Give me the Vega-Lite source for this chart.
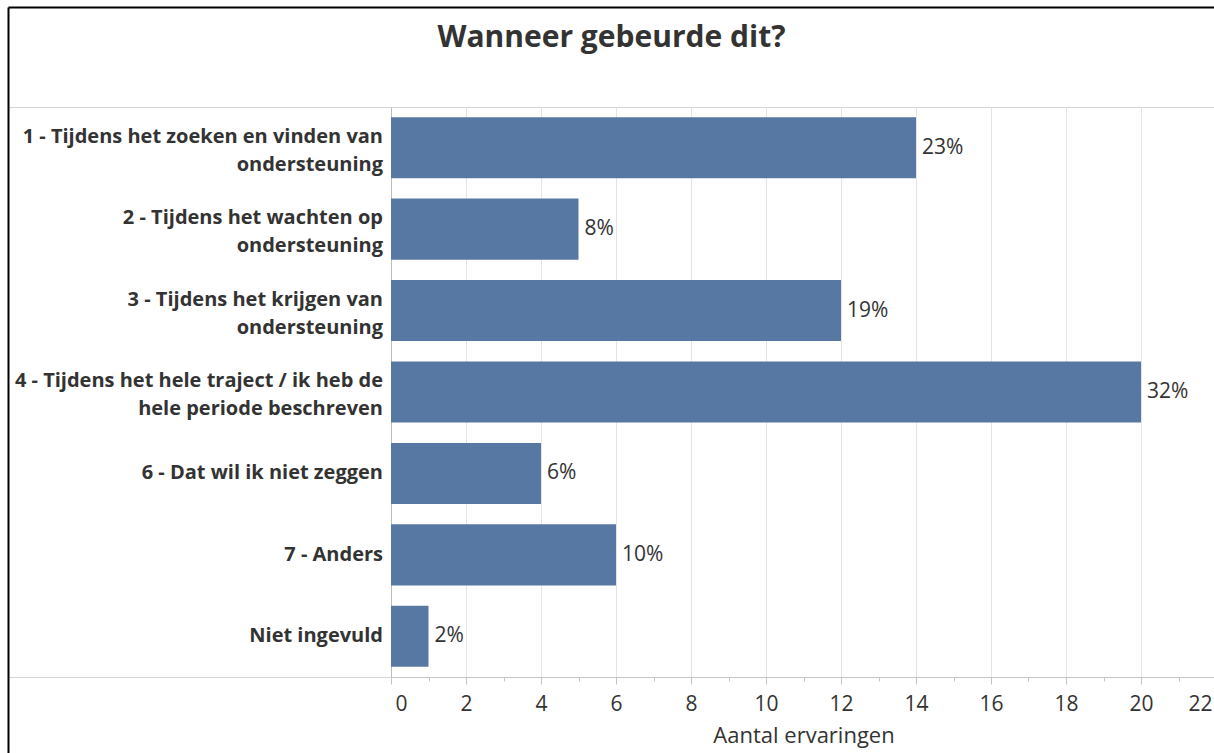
{
  "$schema": "https://vega.github.io/schema/vega-lite/v6.json",
  "width": 1207,
  "height": 570,
  "padding": {"left": 8, "top": 107, "right": 0, "bottom": 76},
  "autosize": {"type": "none"},
  "background": "white",
  "title": {
    "text": "Wanneer gebeurde dit?",
    "font": "Open Sans",
    "fontSize": 30,
    "fontWeight": "bold",
    "color": "#333333",
    "anchor": "middle",
    "frame": "group",
    "offset": -49
  },
  "config": {
    "font": "Open Sans",
    "view": {"stroke": "#d4d4d4", "strokeWidth": 1}
  },
  "data": {
    "values": [
      {"label": "1 - Tijdens het zoeken en vinden van\nondersteuning", "n": 14, "pct": "23%"},
      {"label": "2 - Tijdens het wachten op\nondersteuning", "n": 5, "pct": "8%"},
      {"label": "3 - Tijdens het krijgen van\nondersteuning", "n": 12, "pct": "19%"},
      {"label": "4 - Tijdens het hele traject / ik heb de\nhele periode beschreven", "n": 20, "pct": "32%"},
      {"label": "6 - Dat wil ik niet zeggen", "n": 4, "pct": "6%"},
      {"label": "7 - Anders", "n": 6, "pct": "10%"},
      {"label": "Niet ingevuld", "n": 1, "pct": "2%"}
    ]
  },
  "layer": [
    {
      "encoding": {
        "y": {
          "field": "label",
          "type": "nominal",
          "sort": null,
          "scale": {"paddingInner": 0.25, "paddingOuter": 0.125},
          "axis": null
        }
      },
      "layer": [
        {
          "mark": {"type": "bar", "color": "#5878a4"},
          "encoding": {
            "x": {
              "field": "n",
              "type": "quantitative",
              "scale": {"domain": [0, 22], "range": [383, 1208], "nice": false, "zero": true},
              "axis": {
                "values": [0, 1, 2, 3, 4, 5, 6, 7, 8, 9, 10, 11, 12, 13, 14, 15, 16, 17, 18, 19, 20, 21, 22],
                "labelExpr": "datum.value % 2 === 0 ? datum.label : ''",
                "labelFlush": true,
                "labelFlushOffset": -4,
                "labelFontSize": 21,
                "labelColor": "#333333",
                "labelPadding": 9,
                "tickSize": {"condition": {"test": "datum.value % 2 === 0", "value": 7}, "value": 4},
                "tickColor": "#c4c4c4",
                "domainColor": "#c4c4c4",
                "grid": true,
                "gridColor": {"condition": {"test": "datum.value === 0", "value": "#bcbcbc"}, "value": "#e4e4e4"},
                "gridOpacity": {"condition": {"test": "datum.value % 2 === 0", "value": 1}, "value": 0},
                "title": "Aantal ervaringen",
                "titleFontSize": 22,
                "titleFontWeight": "normal",
                "titleColor": "#333333",
                "titlePadding": 11
              }
            }
          }
        },
        {
          "mark": {"type": "text", "align": "left", "baseline": "middle", "dx": 6, "fontSize": 21, "color": "#333333"},
          "encoding": {
            "x": {"field": "n", "type": "quantitative"},
            "text": {"field": "pct", "type": "nominal"}
          }
        },
        {
          "mark": {
            "type": "text",
            "align": "right",
            "baseline": "middle",
            "dx": -8,
            "dy": {"expr": "indexof(datum.label, '\\n') >= 0 ? -11 : 0"},
            "fontSize": 20,
            "fontWeight": "bold",
            "color": "#333333",
            "lineBreak": "\n",
            "lineHeight": 28
          },
          "encoding": {
            "x": {"datum": 0, "type": "quantitative"},
            "text": {"field": "label", "type": "nominal"}
          }
        }
      ]
    },
    {
      "mark": {"type": "point", "opacity": 0},
      "encoding": {
        "x": {
          "datum": 0,
          "type": "quantitative",
          "scale": {"domain": [0, 1], "range": [0, 1206]},
          "axis": {"orient": "top", "offset": 100, "domainColor": "#000000", "domainWidth": 2, "ticks": false, "labels": false, "grid": false, "title": null}
        },
        "y": {
          "datum": 0,
          "type": "quantitative",
          "scale": {"domain": [0, 1], "range": [-100, 646]},
          "axis": {"orient": "left", "offset": 0, "domainColor": "#000000", "domainWidth": 2, "ticks": false, "labels": false, "grid": false, "title": null}
        }
      }
    }
  ],
  "resolve": {"scale": {"x": "independent", "y": "independent"}}
}
